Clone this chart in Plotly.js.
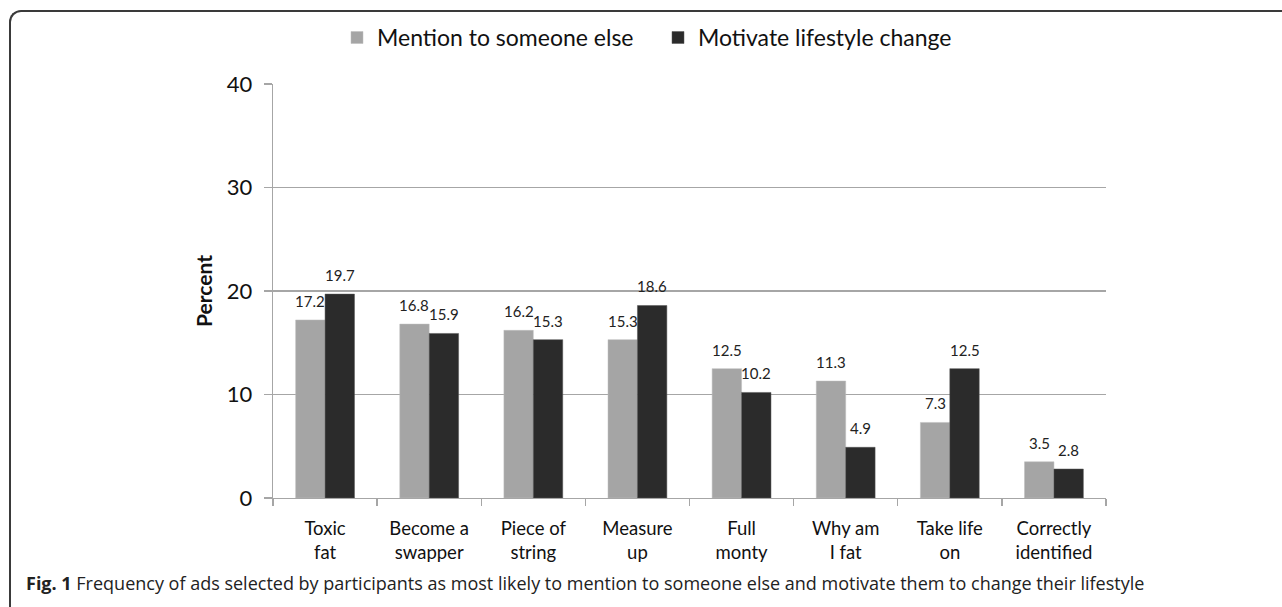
<!DOCTYPE html>
<html>
<head>
<meta charset="utf-8">
<script src="https://cdn.plot.ly/plotly-3.0.1.min.js"></script>
<style>
  html, body { margin: 0; padding: 0; background: #fff; }
  #wrap { position: relative; width: 1282px; height: 607px; overflow: hidden; }
  #frame { position: absolute; left: 9px; top: 10px; width: 1300px; height: 640px;
           border-left: 2px solid #3a3a3a; border-top: 2px solid #3a3a3a;
           border-top-left-radius: 12px; box-sizing: border-box; pointer-events: none; }
  #chart { position: absolute; left: 0; top: 0; width: 1282px; height: 607px; }
</style>
</head>
<body>
<div id="wrap">
  <div id="chart"></div>
  <div id="frame"></div>
</div>
<script>
const categories = ["Toxic<br>fat", "Become a<br>swapper", "Piece of<br>string", "Measure<br>up",
                    "Full<br>monty", "Why am<br>I fat", "Take life<br>on", "Correctly<br>identified"];
const mentionValues = [17.2, 16.8, 16.2, 15.3, 12.5, 11.3, 7.3, 3.5];
const motivateValues = [19.7, 15.9, 15.3, 18.6, 10.2, 4.9, 12.5, 2.8];
const seriesNames = ["Mention to someone else", "Motivate lifestyle change"];
const seriesColors = ["#a5a5a5", "#2b2b2b"];
const yTicks = [0, 10, 20, 30, 40];
const captionBold = "Fig. 1";
const captionText = " Frequency of ads selected by participants as most likely to mention to someone else and motivate them to change their lifestyle";

const chartFont = "Lato, 'Open Sans', sans-serif";
const bargap = 0.435;
const barHalf = (1 - bargap) / 4; // offset of each bar centre from the category centre

const allSeries = [mentionValues, motivateValues];
const traces = allSeries.map((vals, s) => ({
  type: "bar", name: seriesNames[s], x: categories, y: vals,
  marker: { color: seriesColors[s], line: { color: s === 0 ? "#bdbdbd" : "#555", width: 0.5 } },
  hoverinfo: "skip"
}));

// value labels above each bar, positioned via the axis (category index +/- bar offset)
const labelAnnotations = [];
allSeries.forEach((vals, s) => {
  vals.forEach((v, i) => {
    labelAnnotations.push({
      xref: "x", yref: "y", x: i + (s === 0 ? -barHalf : barHalf), y: v,
      text: v.toFixed(1), showarrow: false, xanchor: "center", yanchor: "bottom", yshift: 8,
      font: { family: chartFont, size: 15, color: "#222" }
    });
  });
});

const L = 273, R = 1106, T = 83.5, B = 498;
const layout = {
  width: 1282, height: 607,
  margin: { l: L, r: 1282 - R, t: T, b: 607 - B, pad: 0, autoexpand: false },
  paper_bgcolor: "rgba(0,0,0,0)", plot_bgcolor: "rgba(0,0,0,0)",
  font: { family: chartFont, color: "#111" },
  barmode: "group", bargap: bargap, bargroupgap: 0,
  showlegend: true,
  legend: {
    orientation: "h", x: (337 - L) / (R - L), xanchor: "left", y: (B - 37) / (B - T), yanchor: "middle",
    font: { family: chartFont, size: 23, color: "#111" },
    entrywidth: 276, entrywidthmode: "pixels", traceorder: "normal"
  },
  xaxis: {
    type: "category", tickson: "boundaries", ticks: "outside", ticklen: 7,
    tickcolor: "#a6a6a6", tickwidth: 1.3,
    showline: true, linecolor: "#a6a6a6", linewidth: 1.3,
    showgrid: false, zeroline: false,
    tickfont: { family: chartFont, size: 18.5, color: "#111" },
    ticklabelstandoff: 13, fixedrange: true
  },
  yaxis: {
    range: [0, 40], tickvals: yTicks, ticktext: yTicks.map(String),
    ticks: "outside", ticklen: 8, tickcolor: "#a6a6a6", tickwidth: 1.3,
    showline: true, linecolor: "#a6a6a6", linewidth: 1.3,
    showgrid: true, gridcolor: "#a6a6a6", gridwidth: 1.3, zeroline: false,
    tickfont: { family: chartFont, size: 22, color: "#111" },
    ticklabelstandoff: 7,
    title: { text: "<b>Percent</b>", font: { family: chartFont, size: 21, color: "#111" }, standoff: 8 },
    fixedrange: true
  },
  annotations: labelAnnotations.concat([
    {
      xref: "paper", yref: "paper", x: (24 - L) / (R - L), y: (B - 583) / (B - T),
      xanchor: "left", yanchor: "middle", showarrow: false,
      text: "<b>" + captionBold + "</b>" + captionText,
      font: { family: "'Open Sans', 'Noto Sans', sans-serif", size: 18, color: "#222" }
    }
  ])
};

Plotly.newPlot("chart", traces, layout, { displayModeBar: false, staticPlot: true });
</script>
</body>
</html>
